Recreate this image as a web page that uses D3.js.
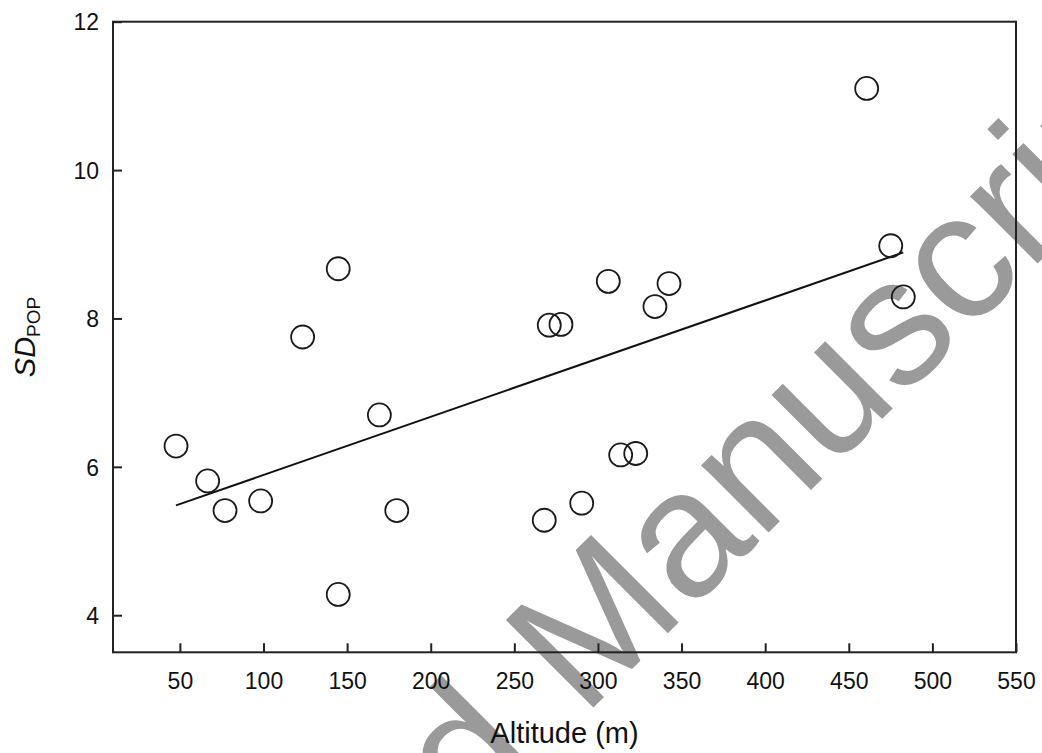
<!DOCTYPE html>
<html>
<head>
<meta charset="utf-8">
<script src="https://cdn.jsdelivr.net/npm/d3@7"></script>
<style>
  html, body { margin: 0; padding: 0; background: #fff; }
  svg { display: block; font-family: "Liberation Sans", Arial, sans-serif; }
</style>
</head>
<body>
<svg id="chart" width="1042" height="753"></svg>
<script>
// ---- data ----
const altitude = [47.7, 66.6, 77.0, 98.3, 123.4, 144.7, 169.3, 179.7, 144.7, 270.9, 277.9,
                  306.2, 342.5, 334.1, 313.6, 322.6, 290.3, 267.9, 460.7, 475.1, 482.6];
const sdPop    = [6.28, 5.81, 5.41, 5.54, 7.75, 8.67, 6.70, 5.41, 4.28, 7.91, 7.92,
                  8.50, 8.47, 8.16, 6.16, 6.18, 5.51, 5.28, 11.10, 8.98, 8.29];
const fitX = [47.7, 482.6];
const fitY = [5.48, 8.89];
const xTicks = [50, 100, 150, 200, 250, 300, 350, 400, 450, 500, 550];
const yTicks = [4, 6, 8, 10, 12];
const xDomain = [10, 550];
const yDomain = [3.5, 12];

// ---- layout ----
const svg = d3.select("#chart");
const mLeft = 113, mRight = 1016, mTop = 21.7, mBottom = 652.3;
const x = d3.scaleLinear().domain(xDomain).range([mLeft, mRight]);
const y = d3.scaleLinear().domain(yDomain).range([mBottom, mTop]);

// ---- watermark (behind) ----
const wm = svg.append("g")
  .attr("transform", "translate(583,718) rotate(-45)")
  .attr("fill", "#9a9a9a")
  .style("font-size", "180px");
wm.append("text").attr("x", -58).attr("text-anchor", "end").text("Accepted");
wm.append("text").attr("x", 0).attr("text-anchor", "start").text("Manuscript");

// ---- axes ----
const xAxis = svg.append("g")
  .attr("transform", `translate(0,${mBottom})`)
  .call(d3.axisBottom(x).tickValues(xTicks).tickSizeInner(-9).tickSizeOuter(0).tickPadding(20));
const yAxis = svg.append("g")
  .attr("transform", `translate(${mLeft},0)`)
  .call(d3.axisLeft(y).tickValues(yTicks).tickSizeInner(-9).tickSizeOuter(0).tickPadding(14));
[xAxis, yAxis].forEach(g => {
  g.select(".domain").remove();
  g.selectAll(".tick line").attr("stroke", "#222").attr("stroke-width", 2);
  g.selectAll(".tick text").attr("fill", "#111")
    .style("font-size", "23px").style("font-family", "'Liberation Sans', Arial, sans-serif");
});
yAxis.selectAll(".tick text").attr("dy", "0.36em");

// frame
svg.append("rect")
  .attr("x", mLeft).attr("y", mTop)
  .attr("width", mRight - mLeft).attr("height", mBottom - mTop)
  .attr("fill", "none").attr("stroke", "#222").attr("stroke-width", 2);

// ---- regression line ----
svg.append("line")
  .attr("x1", x(fitX[0])).attr("y1", y(fitY[0]))
  .attr("x2", x(fitX[1])).attr("y2", y(fitY[1]))
  .attr("stroke", "#111").attr("stroke-width", 2);

// ---- points ----
svg.append("g").selectAll("circle")
  .data(altitude.map((a, i) => [a, sdPop[i]]))
  .join("circle")
  .attr("cx", d => x(d[0])).attr("cy", d => y(d[1]))
  .attr("r", 11.5)
  .attr("fill", "none").attr("stroke", "#1a1a1a").attr("stroke-width", 1.8);

// ---- axis titles ----
svg.append("text")
  .attr("x", (mLeft + mRight) / 2).attr("y", 743)
  .attr("text-anchor", "middle").attr("fill", "#111")
  .style("font-size", "29px").text("Altitude (m)");

const yt = svg.append("text")
  .attr("transform", `translate(35,${(mTop + mBottom) / 2}) rotate(-90)`)
  .attr("text-anchor", "middle").attr("fill", "#111")
  .style("font-size", "29px");
yt.append("tspan").style("font-style", "italic").text("SD");
yt.append("tspan").attr("dy", 5).style("font-size", "19px").text("POP");
</script>
</body>
</html>
